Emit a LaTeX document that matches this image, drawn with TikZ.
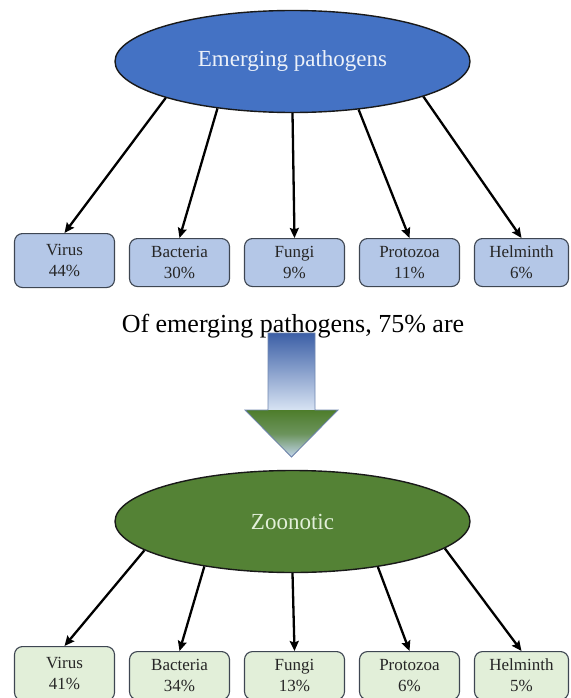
\documentclass[tikz,border=0pt]{standalone}
\usepackage{fontspec}
\setmainfont{Liberation Serif}
\usetikzlibrary{shapes.geometric,arrows.meta}
\definecolor{epblue}{HTML}{4472C4}
\definecolor{zogreen}{HTML}{548235}
\definecolor{boxblue}{HTML}{B4C7E7}
\definecolor{boxgreen}{HTML}{E2EFD9}
\definecolor{edgegray}{HTML}{3E4652}
\definecolor{arrtop}{HTML}{3C5FA6}
\definecolor{arrlow}{HTML}{D7E3F3}
\definecolor{headgreen}{HTML}{4E7D2B}
\definecolor{headtip}{HTML}{C3D6EE}
\definecolor{arredge}{HTML}{6F86AE}
\tikzset{
  groupell/.style={ellipse,draw=black!90,line width=1.4pt,minimum width=355pt,
    minimum height=102pt,inner sep=0pt,font=\fontsize{23}{27}\selectfont},
  sharebox/.style={draw=edgegray,line width=1.1pt,rounded corners=8pt,
    minimum width=100pt,minimum height=48pt,inner sep=0pt,align=center,
    anchor=north,text=black!85,font=\fontsize{17}{21}\selectfont},
  link/.style={line width=2.3pt,-{Stealth[length=10pt,width=9pt,inset=1.5pt]}}
}
\begin{document}
\begin{tikzpicture}[x=1pt,y=-1pt]
  \useasboundingbox (0,0) rectangle (570,698);
  % top tree
  \node[groupell,fill=epblue,text=white!90!epblue] (ep) at (292.5,61.5) {Emerging pathogens};
  \node[sharebox,fill=boxblue,minimum height=54pt] (v1) at (64.5,233) {Virus\\44\%};
  \node[sharebox,fill=boxblue] (b1) at (179.5,238) {Bacteria\\30\%};
  \node[sharebox,fill=boxblue] (f1) at (294.5,238) {Fungi\\9\%};
  \node[sharebox,fill=boxblue] (p1) at (409.5,238) {Protozoa\\11\%};
  \node[sharebox,fill=boxblue,minimum width=94pt] (h1) at (521.5,238) {Helminth\\6\%};
  \begin{scope}[link]
    \draw (ep.196) to (v1.north);
    \draw (ep.212) to (b1.north);
    \draw (ep.270) to (f1.north);
    \draw (ep.324) to (p1.north);
    \draw (ep.345) to (h1.north);
  \end{scope}
  % big arrow
  \fill[top color=arrtop,bottom color=arrlow] (268,333) rectangle (315,410);
  \fill[top color=headgreen,bottom color=headtip,middle color=headgreen!75!headtip]
    (245,410) -- (338,410) -- (291.5,457) -- cycle;
  \draw[arredge,line width=0.8pt] (268,333) -- (315,333) -- (315,410) -- (338,410)
    -- (291.5,457) -- (245,410) -- (268,410) -- cycle;
  \node[anchor=base,font=\fontsize{26}{30}\selectfont] (of) at (293,332) {Of emerging pathogens, 75\% are};
  % bottom tree
  \node[groupell,fill=zogreen,text=boxgreen] (zo) at (292.5,521.5) {Zoonotic};
  \node[sharebox,fill=boxgreen,minimum height=54pt] (v2) at (64.5,646) {Virus\\41\%};
  \node[sharebox,fill=boxgreen] (b2) at (179.5,651) {Bacteria\\34\%};
  \node[sharebox,fill=boxgreen] (f2) at (294.5,651) {Fungi\\13\%};
  \node[sharebox,fill=boxgreen] (p2) at (409.5,651) {Protozoa\\6\%};
  \node[sharebox,fill=boxgreen,minimum width=94pt] (h2) at (521.5,651) {Helminth\\5\%};
  \begin{scope}[link]
    \draw (zo.191) to (v2.north);
    \draw (zo.207) to (b2.north);
    \draw (zo.270) to (f2.north);
    \draw (zo.332) to (p2.north);
    \draw (zo.350) to (h2.north);
  \end{scope}
\end{tikzpicture}
\end{document}
